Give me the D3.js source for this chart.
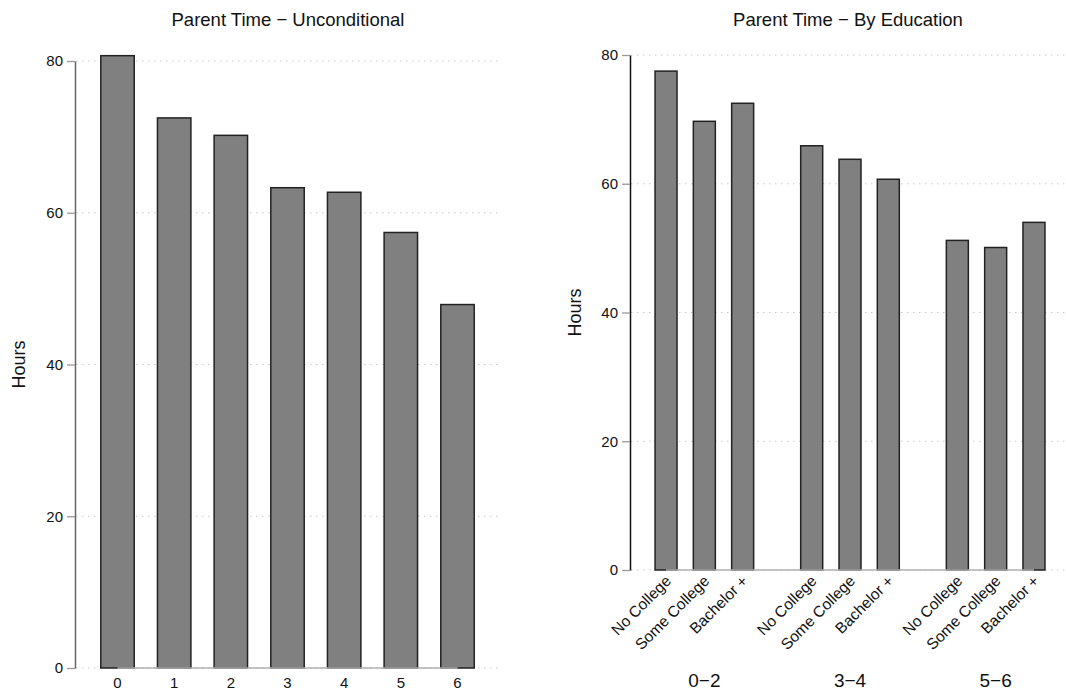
<!DOCTYPE html>
<html>
<head>
<meta charset="utf-8">
<script src="https://cdn.jsdelivr.net/npm/d3@7"></script>
<style>
  html, body { margin: 0; padding: 0; background: #fff; }
  text { font-family: "Liberation Sans", Arial, Helvetica, sans-serif; fill: #111; }
</style>
</head>
<body>
<svg id="chart" width="1066" height="696"></svg>
<script>
// ---- data ----
const ageCats = ["0", "1", "2", "3", "4", "5", "6"];
const ageHours = [80.7, 72.5, 70.2, 63.3, 62.7, 57.4, 47.9];

const ageGroups = ["0−2", "3−4", "5−6"];
const eduLevels = ["No College", "Some College", "Bachelor +"];
const noCollegeHours = [77.5, 65.9, 51.2];
const someCollegeHours = [69.7, 63.8, 50.1];
const bachelorHours = [72.5, 60.7, 54.0];

const yTicks = [0, 20, 40, 60, 80];
const titles = ["Parent Time − Unconditional", "Parent Time − By Education"];
const yLabel = "Hours";

// ---- drawing ----
const svg = d3.select("#chart");
const BAR_FILL = "#808080", BAR_STROKE = "#222";

function drawYAxis(g, y, x0, x1, axisColor, labelX) {
  g.selectAll(".grid").data(yTicks).enter().append("line")
    .attr("x1", x0 + 1).attr("x2", x1)
    .attr("y1", d => y(d)).attr("y2", d => y(d))
    .attr("stroke", "#c8c8c8").attr("stroke-width", 1)
    .attr("stroke-dasharray", "1.5,4.5");
  const ax = g.append("g").attr("transform", `translate(${x0},0)`)
    .call(d3.axisLeft(y).tickValues(yTicks).tickSize(8).tickPadding(4).tickSizeOuter(0));
  ax.select(".domain").attr("stroke", axisColor).attr("stroke-width", 1.5);
  ax.selectAll(".tick line").attr("stroke", "#999").attr("stroke-width", 1.3);
  ax.selectAll(".tick text").style("font-size", "15px").attr("fill", "#111")
    .style("font-family", "'Liberation Sans', Arial, sans-serif");
  const [ya, yb] = y.range();
  g.append("text").attr("transform", `translate(${labelX},${(ya + yb) / 2}) rotate(-90)`)
    .attr("text-anchor", "middle").style("font-size", "18px").text(yLabel);
}

// ----- Left panel -----
{
  const g = svg.append("g");
  const y = d3.scaleLinear().domain([0, 80]).range([668, 61]);
  const x = d3.scaleBand().domain(ageCats).range([75, 500]).paddingInner(0.41).paddingOuter(0.455);
  drawYAxis(g, y, 75, 500, "#666", 25);
  const data = ageCats.map((c, i) => ({ c, v: ageHours[i] }));
  g.selectAll(".bar").data(data).enter().append("rect")
    .attr("x", d => x(d.c)).attr("width", x.bandwidth())
    .attr("y", d => y(d.v)).attr("height", d => y(0) - y(d.v))
    .attr("fill", BAR_FILL).attr("stroke", BAR_STROKE).attr("stroke-width", 1.5);
  g.append("line")
    .attr("x1", x(ageCats[0]) + x.bandwidth() / 2)
    .attr("x2", x(ageCats[ageCats.length - 1]) + x.bandwidth() / 2)
    .attr("y1", y(0)).attr("y2", y(0)).attr("stroke", "#b0b0b0").attr("stroke-width", 1.5);
  const xa = g.append("g").attr("transform", `translate(0,${y(0)})`)
    .call(d3.axisBottom(x).tickSize(0).tickPadding(9));
  xa.select(".domain").remove();
  xa.selectAll(".tick text").style("font-size", "15px").attr("fill", "#111")
    .style("font-family", "'Liberation Sans', Arial, sans-serif");
  g.append("text").attr("x", 288).attr("y", 26).attr("text-anchor", "middle")
    .style("font-size", "18.5px").text(titles[0]);
}

// ----- Right panel -----
{
  const g = svg.append("g");
  const y = d3.scaleLinear().domain([0, 80]).range([570, 55]);
  const x0 = d3.scaleBand().domain(ageGroups).range([631, 1069]).paddingInner(0.323).paddingOuter(0.165);
  const x1 = d3.scaleBand().domain(eduLevels).range([0, x0.bandwidth()]).paddingInner(0.426).paddingOuter(0);
  drawYAxis(g, y, 630, 1066, "#111", 581);
  const series = [noCollegeHours, someCollegeHours, bachelorHours];
  const data = [];
  ageGroups.forEach((grp, gi) => eduLevels.forEach((e, ei) => data.push({ grp, e, v: series[ei][gi] })));
  g.selectAll(".bar").data(data).enter().append("rect")
    .attr("x", d => x0(d.grp) + x1(d.e)).attr("width", x1.bandwidth())
    .attr("y", d => y(d.v)).attr("height", d => y(0) - y(d.v))
    .attr("fill", BAR_FILL).attr("stroke", BAR_STROKE).attr("stroke-width", 1.5);
  const first = data[0], last = data[data.length - 1];
  g.append("line")
    .attr("x1", x0(first.grp) + x1(first.e) + x1.bandwidth() / 2)
    .attr("x2", x0(last.grp) + x1(last.e) + x1.bandwidth() / 2)
    .attr("y1", y(0)).attr("y2", y(0)).attr("stroke", "#b0b0b0").attr("stroke-width", 1.5);
  g.selectAll(".edu").data(data).enter().append("text")
    .attr("transform", d => `translate(${x0(d.grp) + x1(d.e) + x1.bandwidth() / 2 + 6},${y(0) + 12}) rotate(-45)`)
    .attr("text-anchor", "end").style("font-size", "15.5px").text(d => d.e);
  g.selectAll(".grp").data(ageGroups).enter().append("text")
    .attr("x", d => x0(d) + x0.bandwidth() / 2).attr("y", 687)
    .attr("text-anchor", "middle").style("font-size", "19px").text(d => d);
  g.append("text").attr("x", 848).attr("y", 26).attr("text-anchor", "middle")
    .style("font-size", "18.5px").text(titles[1]);
}
</script>
</body>
</html>
